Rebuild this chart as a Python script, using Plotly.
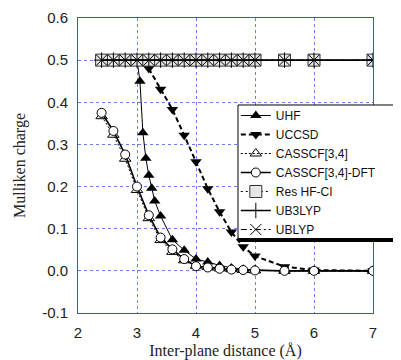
import plotly.graph_objects as go

# ---- data ----
x_full = [2.4, 2.6, 2.8, 3.0, 3.2, 3.4, 3.6, 3.8, 4.0, 4.2, 4.4, 4.6, 4.8, 5.0, 5.5, 6.0, 7.0]
res_hfci = [0.5, 0.5, 0.5, 0.5, 0.5, 0.5, 0.5, 0.5, 0.5, 0.5, 0.5, 0.5, 0.5, 0.5, 0.5, 0.5, 0.5]
ub3lyp = [0.5, 0.5, 0.5, 0.5, 0.5, 0.5, 0.5, 0.5, 0.5, 0.5, 0.5, 0.5, 0.5, 0.5, 0.5, 0.5, 0.5]
ublyp = [0.5, 0.5, 0.5, 0.5, 0.5, 0.5, 0.5, 0.5, 0.5, 0.5, 0.5, 0.5, 0.5, 0.5, 0.5, 0.5, 0.5]

casscf = [0.367, 0.323, 0.266, 0.192, 0.125, 0.073, 0.045, 0.025, 0.012, 0.009, 0.006, 0.004, 0.002, 0.001, 0.0, 0.0, 0.0]
casscf_dft = [0.375, 0.332, 0.276, 0.200, 0.132, 0.079, 0.051, 0.028, 0.011, 0.008, 0.005, 0.003, 0.002, 0.001, 0.0, 0.0, 0.0]

uhf_x = [3.0, 3.05, 3.1, 3.15, 3.2, 3.25, 3.3, 3.4, 3.6, 3.8, 4.0, 4.2, 4.4, 4.6, 4.8, 5.0, 5.5, 6.0, 7.0]
uhf_y = [0.5, 0.45, 0.328, 0.267, 0.227, 0.196, 0.166, 0.13, 0.074, 0.049, 0.028, 0.021, 0.013, 0.007, 0.004, 0.002, 0.0, 0.0, 0.0]

uccsd_x = [3.2, 3.4, 3.6, 3.8, 4.0, 4.2, 4.4, 4.6, 4.8, 5.0, 5.5, 6.0, 7.0]
uccsd_y = [0.48, 0.431, 0.383, 0.322, 0.259, 0.195, 0.14, 0.092, 0.057, 0.035, 0.01, 0.002, 0.0]

x_ticks = [2, 3, 4, 5, 6, 7]
y_ticks = [-0.1, 0.0, 0.1, 0.2, 0.3, 0.4, 0.5, 0.6]
y_tick_text = ["-0.1", "0.0", "0.1", "0.2", "0.3", "0.4", "0.5", "0.6"]

BLUE = "#3d52dc"
GRID = "#6a7cf0"

fig = go.Figure()

fig.add_trace(go.Scatter(
    x=uhf_x, y=uhf_y, name="UHF", mode="lines+markers",
    line=dict(color="black", width=1),
    marker=dict(symbol="triangle-up", size=10, color="black")))

fig.add_trace(go.Scatter(
    x=uccsd_x, y=uccsd_y, name="UCCSD", mode="lines+markers",
    line=dict(color="black", width=2, dash="5px,3px"),
    marker=dict(symbol="triangle-down", size=10, color="black")))

fig.add_trace(go.Scatter(
    x=x_full, y=casscf, name="CASSCF[3,4]", mode="lines+markers",
    line=dict(color="black", width=1, dash="2px,2px"),
    marker=dict(symbol="triangle-up-open", size=10, color="black", line=dict(width=1))))

fig.add_trace(go.Scatter(
    x=x_full, y=casscf_dft, name="CASSCF[3,4]-DFT", mode="lines+markers",
    line=dict(color="black", width=1.6),
    marker=dict(symbol="circle", size=9, color="white", line=dict(color="black", width=1))))

fig.add_trace(go.Scatter(
    x=x_full, y=res_hfci, name="Res HF-CI", mode="lines+markers",
    line=dict(color="black", width=1, dash="2px,3px"),
    marker=dict(symbol="square", size=12, color="#e6e6e6", line=dict(color="#333333", width=1))))

fig.add_trace(go.Scatter(
    x=x_full, y=ub3lyp, name="UB3LYP", mode="lines+markers",
    line=dict(color="black", width=1.6),
    marker=dict(symbol="cross-thin", size=11, line=dict(color="black", width=1))))

fig.add_trace(go.Scatter(
    x=x_full, y=ublyp, name="UBLYP", mode="lines+markers",
    line=dict(color="black", width=1, dash="6px,3px,2px,3px"),
    marker=dict(symbol="x-thin", size=11, line=dict(color="black", width=1))))

axis_common = dict(
    showline=True, mirror=True, linecolor=BLUE, linewidth=1,
    showgrid=True, gridcolor=GRID, gridwidth=1, griddash="dot",
    zeroline=False, ticks="",
    tickfont=dict(family="Liberation Sans, Arial", size=15, color="#222222"),
)

fig.update_xaxes(
    range=[2, 7], tickvals=x_ticks, ticklabelstandoff=6,
    title=dict(text="Inter-plane distance (Å)",
               font=dict(family="Liberation Serif, Times New Roman", size=16, color="#222222"),
               standoff=10),
    **axis_common)
fig.update_yaxes(
    range=[-0.1, 0.6], tickvals=y_ticks, ticktext=y_tick_text, ticklabelstandoff=6,
    title=dict(text="Mulliken charge",
               font=dict(family="Liberation Serif, Times New Roman", size=16, color="#222222"),
               standoff=12),
    **axis_common)

# legend frame (box running past the right edge, with a thick lower edge)
fig.add_shape(type="rect", xref="paper", yref="paper",
              x0=0.5424, x1=1.2, y0=0.2475, y1=0.7051,
              fillcolor="white", line=dict(color="black", width=1), layer="above")
fig.add_shape(type="line", xref="paper", yref="paper",
              x0=0.5424, x1=1.2, y0=0.2475, y1=0.2475,
              line=dict(color="black", width=4), layer="above")

fig.update_layout(
    width=393, height=352,
    margin=dict(l=70, r=28, t=10, b=47, autoexpand=False),
    paper_bgcolor="white", plot_bgcolor="white",
    showlegend=True,
    legend=dict(
        x=0.535, y=0.7186, xanchor="left", yanchor="top",
        bgcolor="rgba(0,0,0,0)", borderwidth=0,
        font=dict(family="Liberation Sans, Arial", size=12, color="#111111"),
        itemwidth=30, tracegroupgap=0,
    ),
)

fig.write_html("out.html")
